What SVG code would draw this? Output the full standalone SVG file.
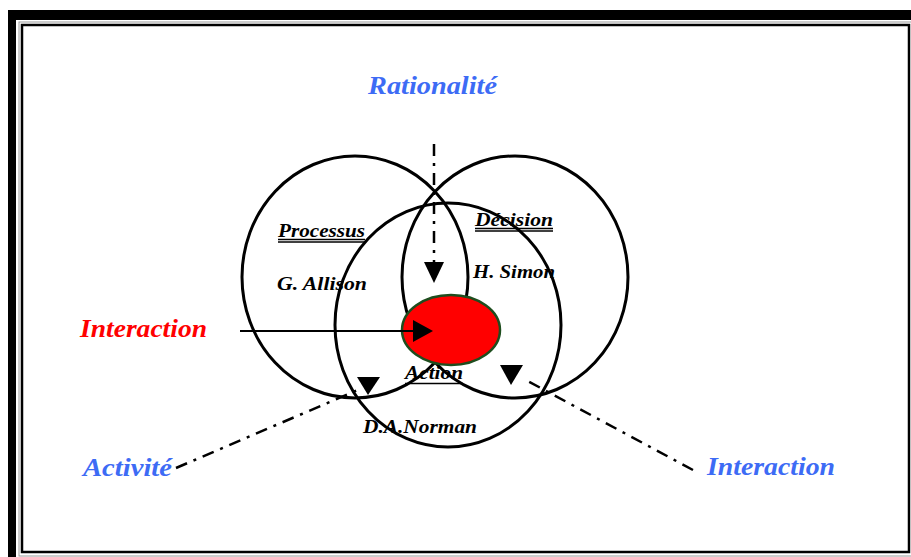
<svg xmlns="http://www.w3.org/2000/svg" width="911" height="557" viewBox="0 0 911 557">
  <style>
    .ring { fill: none; stroke: #000; stroke-width: 3; }
    .lbl { font-family: "Liberation Serif", "Times New Roman", serif; font-style: italic; font-weight: bold; fill: #000; font-size: 19px; }
    .big { font-family: "Liberation Serif", "Times New Roman", serif; font-style: italic; font-weight: bold; font-size: 26px; }
    .blue { fill: #3d6bf5; }
    .red { fill: #ff0000; }
    .dd { fill: none; stroke: #000; stroke-width: 2.5; stroke-dasharray: 12 7 3 7; }
    .ul { stroke: #000; stroke-width: 1.5; }
    .head { fill: #000; }
  </style>
  <rect x="0" y="0" width="911" height="557" fill="#fff"/>
  <g id="frame">
    <path d="M8,10 H911 V20 H16 V557 H8 Z" fill="#000"/>
    <rect x="19" y="22" width="894" height="534" fill="none" stroke="#999" stroke-width="1"/>
    <rect x="22" y="25" width="887" height="527" fill="none" stroke="#000" stroke-width="2.5"/>
  </g>
  <g id="processus">
    <ellipse class="ring" cx="355" cy="277" rx="113" ry="121"/>
    <text class="lbl" x="278" y="237" textLength="87" lengthAdjust="spacingAndGlyphs">Processus</text>
    <line class="ul" x1="278" y1="239.5" x2="365" y2="239.5"/>
    <line class="ul" x1="278" y1="242" x2="365" y2="242"/>
    <text class="lbl" x="277" y="290" textLength="90" lengthAdjust="spacingAndGlyphs">G. Allison</text>
  </g>
  <g id="decision">
    <ellipse class="ring" cx="515" cy="277" rx="113" ry="121"/>
    <text class="lbl" x="475" y="226" textLength="78" lengthAdjust="spacingAndGlyphs">Décision</text>
    <line class="ul" x1="475" y1="228.5" x2="553" y2="228.5"/>
    <line class="ul" x1="475" y1="231" x2="553" y2="231"/>
    <text class="lbl" x="473" y="278" textLength="82" lengthAdjust="spacingAndGlyphs">H. Simon</text>
  </g>
  <g id="action">
    <ellipse class="ring" cx="448" cy="325" rx="113" ry="122"/>
    <text class="lbl" x="405" y="379" textLength="58" lengthAdjust="spacingAndGlyphs">Action</text>
    <line class="ul" x1="405" y1="383.5" x2="463" y2="383.5"/>
    <text class="lbl" x="363" y="433" textLength="114" lengthAdjust="spacingAndGlyphs">D.A.Norman</text>
  </g>
  <g id="core">
    <ellipse cx="451" cy="330" rx="49" ry="35" fill="#ff0000" stroke="#1e4d1e" stroke-width="2.5"/>
  </g>
  <g id="rationalite">
    <text class="big blue" x="368" y="94" textLength="129" lengthAdjust="spacingAndGlyphs">Rationalité</text>
  </g>
  <g id="interaction-left">
    <text class="big red" x="80" y="337" textLength="127" lengthAdjust="spacingAndGlyphs">Interaction</text>
  </g>
  <g id="activite">
    <text class="big blue" x="83" y="476" textLength="89" lengthAdjust="spacingAndGlyphs">Activité</text>
  </g>
  <g id="interaction-right">
    <text class="big blue" x="707" y="475" textLength="128" lengthAdjust="spacingAndGlyphs">Interaction</text>
  </g>
  <g id="connectors">
    <line class="dd" x1="434" y1="144" x2="434" y2="264"/>
    <polygon class="head" points="424,262 444,262 434,283"/>
    <line x1="240" y1="331" x2="416" y2="331" stroke="#000" stroke-width="2"/>
    <polygon class="head" points="413,320 433,331 413,342"/>
    <line class="dd" x1="176" y1="468" x2="360" y2="389"/>
    <polygon class="head" points="357,377 380,377 368,395"/>
    <line class="dd" x1="693" y1="470" x2="524" y2="379"/>
    <polygon class="head" points="500,365 523,365 511,385"/>
  </g>
</svg>
